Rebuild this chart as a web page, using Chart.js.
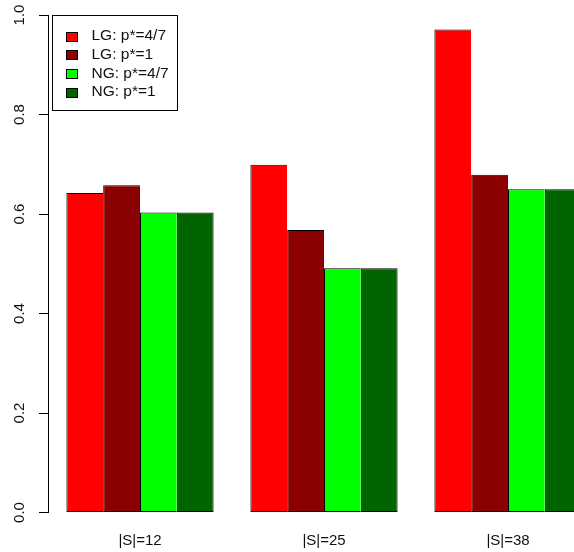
<!DOCTYPE html>
<html>
<head>
<meta charset="utf-8">
<script src="https://cdn.jsdelivr.net/npm/chart.js@4/dist/chart.umd.min.js"></script>
<style>
    html, body { margin: 0; padding: 0; background: #fff; overflow: hidden; width: 574px; height: 552px; }
    #wrap { width: 600px; height: 552px; position: relative; }
</style>
</head>
<body>
<div id="wrap"><canvas id="chart"></canvas></div>
<script>
// Chart data
const categories = ['|S|=12', '|S|=25', '|S|=38'];
const seriesLabels = ['LG: p*=4/7', 'LG: p*=1', 'NG: p*=4/7', 'NG: p*=1'];
const seriesColors = ['#ff0000', '#8b0000', '#00ff00', '#006400'];
const lgFourSevenths = [0.642, 0.699, 0.971];
const lgOne = [0.658, 0.568, 0.679];
const ngFourSevenths = [0.603, 0.491, 0.650];
const ngOne = [0.603, 0.491, 0.650];
const yTicks = [0, 0.2, 0.4, 0.6, 0.8, 1.0];

const FONT = "'Liberation Sans', Arial, sans-serif";
const seriesValues = [lgFourSevenths, lgOne, ngFourSevenths, ngOne];

// R-style legend box in the top left corner of the plot
const boxLegend = {
    id: 'boxLegend',
    afterDraw(chart) {
        const ctx = chart.ctx;
        const area = chart.chartArea;
        const x0 = area.left + 4.5, y0 = area.top + 0.5;
        const w = 125, h = 95, rowH = 18.7;
        ctx.save();
        ctx.fillStyle = '#fff';
        ctx.fillRect(x0, y0, w, h);
        ctx.strokeStyle = '#000';
        ctx.lineWidth = 1;
        ctx.strokeRect(x0, y0, w, h);
        ctx.font = '15.5px ' + FONT;
        ctx.textBaseline = 'middle';
        ctx.textAlign = 'left';
        chart.data.datasets.forEach((ds, i) => {
            const cy = area.top + 21 + i * rowH;
            ctx.fillStyle = ds.backgroundColor;
            ctx.fillRect(x0 + 14, Math.round(cy - 4.5) + 0.5, 11, 9);
            ctx.strokeStyle = '#000';
            ctx.strokeRect(x0 + 14, Math.round(cy - 4.5) + 0.5, 11, 9);
            ctx.fillStyle = '#111';
            ctx.fillText(ds.label, x0 + 39, cy);
        });
        ctx.restore();
    }
};

const datasets = seriesLabels.map((label, i) => ({
    label: label,
    data: seriesValues[i],
    backgroundColor: seriesColors[i],
    borderColor: '#000',
    // neighbouring bars share one edge, like R's barplot
    borderWidth: i < seriesLabels.length - 1 ? { top: 1, left: 1, bottom: 1, right: 0 } : 1,
    borderSkipped: false,
    inflateAmount: 0,
    barPercentage: 1.0,
    categoryPercentage: 0.8
}));

new Chart(document.getElementById('chart'), {
    type: 'bar',
    data: { labels: categories, datasets: datasets },
    options: {
        responsive: true,
        maintainAspectRatio: false,
        animation: false,
        devicePixelRatio: 1,
        layout: { padding: { left: 2, top: 15, right: 0, bottom: 2 } },
        plugins: {
            legend: { display: false },
            tooltip: { enabled: false }
        },
        scales: {
            x: {
                grid: { display: false, drawTicks: false },
                border: { display: false },
                ticks: { color: '#111', font: { family: FONT, size: 15 }, padding: 19 },
                afterFit: scale => { scale.height = 37.5; }
            },
            y: {
                min: 0,
                max: 1,
                afterBuildTicks: scale => { scale.ticks = yTicks.map(v => ({ value: v })); },
                afterFit: scale => {
                    scale.width = 46;
                    scale.paddingTop = 0;
                    scale.paddingBottom = 0;
                },
                grid: { drawOnChartArea: false, drawTicks: true, tickLength: 9, tickColor: '#000' },
                border: { display: true, color: '#000', width: 1 },
                ticks: {
                    color: '#111',
                    font: { family: FONT, size: 15 },
                    padding: 9,
                    minRotation: 90,
                    maxRotation: 90,
                    crossAlign: 'center',
                    callback: v => Number(v).toFixed(1)
                }
            }
        }
    },
    plugins: [boxLegend]
});
</script>
</body>
</html>
